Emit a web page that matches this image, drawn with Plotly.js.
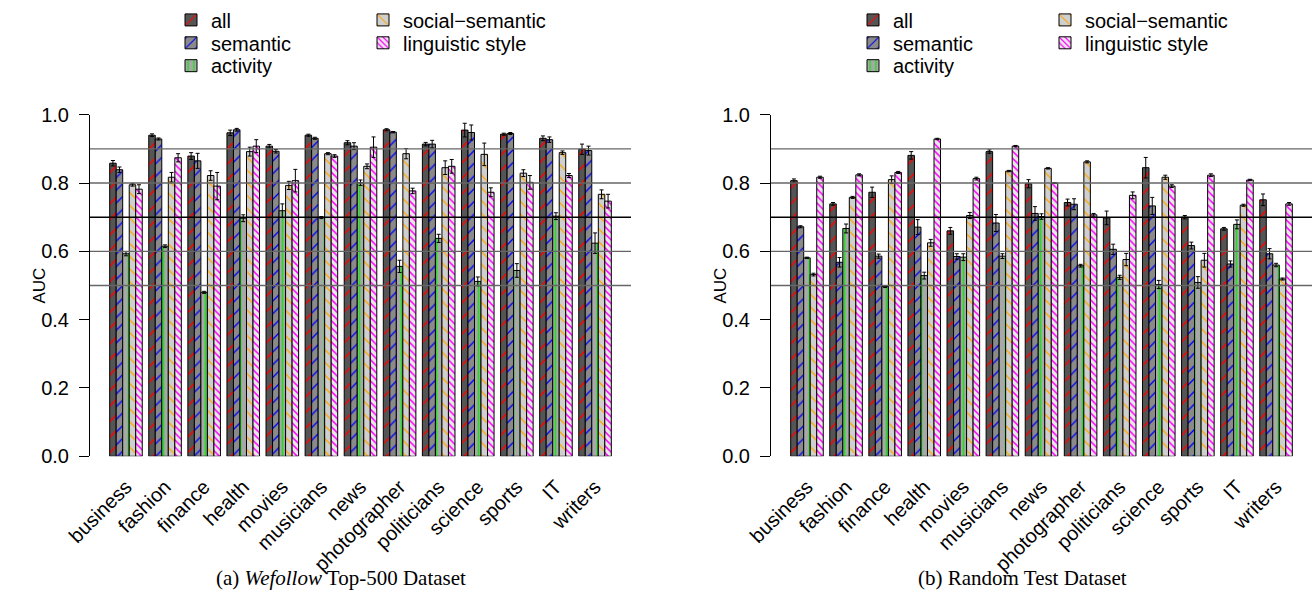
<!DOCTYPE html>
<html>
<head>
<meta charset="utf-8">
<script src="https://cdn.plot.ly/plotly-3.0.1.min.js"></script>
<style>
  html, body { margin: 0; padding: 0; background: #ffffff; }
  #chart { width: 1315px; height: 593px; }
</style>
</head>
<body>
<div id="chart"></div>
<script>
// ---------------- DATA ----------------
const categories = ['business','fashion','finance','health','movies','musicians','news','photographer','politicians','science','sports','IT','writers'];
const seriesNames = ['all','semantic','activity','social\u2212semantic','linguistic style'];

// (a) Wefollow Top-500 Dataset
const allA  = [0.858,0.940,0.879,0.947,0.908,0.940,0.918,0.956,0.914,0.955,0.943,0.931,0.899];
const semA  = [0.839,0.929,0.865,0.956,0.893,0.931,0.908,0.949,0.914,0.948,0.945,0.927,0.895];
const actA  = [0.593,0.615,0.480,0.697,0.719,0.699,0.801,0.556,0.638,0.512,0.544,0.703,0.624];
const socA  = [0.795,0.817,0.822,0.892,0.793,0.886,0.849,0.886,0.845,0.884,0.829,0.889,0.767];
const lingA = [0.782,0.874,0.791,0.908,0.807,0.879,0.905,0.777,0.849,0.773,0.802,0.822,0.747];
const allAerr  = [0.008,0.004,0.010,0.008,0.005,0.003,0.006,0.003,0.005,0.020,0.003,0.007,0.015];
const semAerr  = [0.008,0.003,0.022,0.004,0.005,0.003,0.010,0.002,0.011,0.022,0.003,0.008,0.013];
const actAerr  = [0.006,0.004,0.003,0.010,0.020,0.003,0.008,0.018,0.012,0.013,0.020,0.010,0.030];
const socAerr  = [0.004,0.014,0.014,0.013,0.012,0.003,0.007,0.015,0.020,0.033,0.010,0.005,0.013];
const lingAerr = [0.013,0.012,0.040,0.019,0.033,0.004,0.030,0.008,0.020,0.013,0.020,0.006,0.020];

// (b) Random Test Dataset
const allB  = [0.807,0.739,0.773,0.881,0.660,0.892,0.798,0.743,0.698,0.845,0.700,0.666,0.751];
const semB  = [0.672,0.568,0.586,0.671,0.585,0.683,0.711,0.738,0.606,0.733,0.617,0.563,0.593];
const actB  = [0.581,0.667,0.497,0.529,0.583,0.586,0.702,0.558,0.524,0.503,0.509,0.679,0.560];
const socB  = [0.532,0.758,0.810,0.625,0.705,0.835,0.843,0.862,0.576,0.817,0.574,0.735,0.519];
const lingB = [0.817,0.824,0.831,0.929,0.813,0.908,0.800,0.707,0.764,0.791,0.823,0.809,0.739];
const allBerr  = [0.005,0.004,0.015,0.011,0.010,0.005,0.012,0.010,0.020,0.030,0.005,0.004,0.017];
const semBerr  = [0.003,0.014,0.006,0.022,0.008,0.025,0.020,0.016,0.015,0.025,0.010,0.009,0.015];
const actBerr  = [0.002,0.013,0.003,0.010,0.010,0.007,0.008,0.004,0.006,0.012,0.017,0.013,0.005];
const socBerr  = [0.004,0.003,0.011,0.010,0.009,0.002,0.002,0.003,0.018,0.006,0.020,0.003,0.003];
const lingBerr = [0.003,0.003,0.003,0.002,0.004,0.002,0.001,0.004,0.010,0.004,0.004,0.002,0.004];

const yTicks = [0, 0.2, 0.4, 0.6, 0.8, 1.0];
const refLevels = [0.5, 0.6, 0.7, 0.8, 0.9];
const captionA = '(a) <i>Wefollow</i> Top-500 Dataset';
const captionB = '(b) Random Test Dataset';
const yTitle = 'AUC';

// ---------------- STYLE ----------------
const W = 1315, H = 593;
const patterns = [
  {shape:'/',  bgcolor:'#555555', fgcolor:'#ff0000', size:11, solidity:0.14},
  {shape:'/',  bgcolor:'#8a8a8a', fgcolor:'#0000ff', size:9,  solidity:0.15},
  {shape:'|',  bgcolor:'#a8a8a8', fgcolor:'#22dd22', size:7,  solidity:0.25},
  {shape:'\\', bgcolor:'#cfcfcf', fgcolor:'#ffa500', size:9,  solidity:0.14},
  {shape:'\\', bgcolor:'#e8e8e8', fgcolor:'#ff00ff', size:5,  solidity:0.3}
];
const refColors = ['#666666','#666666','#000000','#666666','#666666'];

const FONT = 'Liberation Sans, Arial, Helvetica, sans-serif';
const SERIF = 'Liberation Serif, Times New Roman, serif';

// legend cell positions (text start x, row center y) in pixels
const legendCellsA = [[213,17],[213,40],[213,63],[405,17],[405,40]];
const legendCellsB = [[895,17],[895,40],[895,63],[1087,17],[1087,40]];

const yDomain = [1 - 455.6/H, 1 - 112.3/H];
const xDomA = [90/W, 631/W];
const xDomB = [771/W, 1312/W];
const xRange = [-0.92, 12.92];

function makeTraces(vals, errs, xa, ya, legendOffset) {
  return vals.map((v, i) => ({
    type: 'bar',
    name: seriesNames[i],
    x: categories,
    y: v,
    xaxis: xa, yaxis: ya,
    legend: (legendOffset + i === 0) ? 'legend' : 'legend' + (legendOffset + i + 1),
    marker: {
      color: patterns[i].bgcolor,
      line: {color: '#000000', width: 1},
      pattern: Object.assign({fillmode: 'replace'}, patterns[i])
    },
    error_y: {type: 'data', array: errs[i], visible: true, color: '#000000', thickness: 1, width: 2},
    hoverinfo: 'x+y+name'
  }));
}

const traces = []
  .concat(makeTraces([allA, semA, actA, socA, lingA], [allAerr, semAerr, actAerr, socAerr, lingAerr], 'x', 'y', 0))
  .concat(makeTraces([allB, semB, actB, socB, lingB], [allBerr, semBerr, actBerr, socBerr, lingBerr], 'x2', 'y2', 5));

const xAxisBase = {type: 'category', range: xRange, showline: false, ticks: '',
  tickangle: -45, tickfont: {family: FONT, size: 20}, ticklabelstandoff: 14,
  showgrid: false, zeroline: false, fixedrange: true};
const yAxisBase = {domain: yDomain, range: [0, 1], tickvals: yTicks, tickformat: '.1f',
  showline: true, linecolor: '#000000', linewidth: 1, ticks: 'outside', ticklen: 10, tickwidth: 1,
  tickcolor: '#000000', ticklabelstandoff: 6, showgrid: false, zeroline: false,
  tickfont: {family: FONT, size: 20}, fixedrange: true};

const layout = {
  width: W, height: H,
  margin: {l: 0, r: 0, t: 0, b: 0},
  paper_bgcolor: '#ffffff', plot_bgcolor: 'rgba(0,0,0,0)',
  font: {family: FONT, size: 20, color: '#000000'},
  barmode: 'group', bargap: 1/6, bargroupgap: 0,
  showlegend: true,
  xaxis: Object.assign({}, xAxisBase, {domain: xDomA, anchor: 'y'}),
  yaxis: Object.assign({}, yAxisBase, {anchor: 'x'}),
  xaxis2: Object.assign({}, xAxisBase, {domain: xDomB, anchor: 'y2'}),
  yaxis2: Object.assign({}, yAxisBase, {anchor: 'x2'}),
  shapes: [],
  annotations: [
    {text: captionA, x: 341/W, y: 1 - 578/H, xref: 'paper', yref: 'paper', showarrow: false,
     xanchor: 'center', yanchor: 'middle', font: {family: SERIF, size: 21, color: '#000000'}},
    {text: captionB, x: 1022/W, y: 1 - 578/H, xref: 'paper', yref: 'paper', showarrow: false,
     xanchor: 'center', yanchor: 'middle', font: {family: SERIF, size: 21, color: '#000000'}},
    {text: yTitle, x: 40/W, y: 1 - 284/H, xref: 'paper', yref: 'paper', showarrow: false, textangle: -90,
     xanchor: 'center', yanchor: 'middle', font: {family: FONT, size: 17, color: '#000000'}},
    {text: yTitle, x: 721/W, y: 1 - 284/H, xref: 'paper', yref: 'paper', showarrow: false, textangle: -90,
     xanchor: 'center', yanchor: 'middle', font: {family: FONT, size: 17, color: '#000000'}}
  ]
};

refLevels.forEach((lv, i) => {
  ['x', 'x2'].forEach((xa, k) => {
    layout.shapes.push({type: 'line', xref: xa + ' domain', yref: k === 0 ? 'y' : 'y2',
      x0: 0, x1: 1, y0: lv, y1: lv, layer: 'above',
      line: {color: refColors[i], width: 1.4}});
  });
});

function legendCfg(cell) {
  return {x: (cell[0] - 42) / W, y: 1 - cell[1] / H, xanchor: 'left', yanchor: 'middle',
          orientation: 'v', bgcolor: 'rgba(0,0,0,0)', borderwidth: 0,
          font: {family: FONT, size: 20, color: '#000000'}, itemclick: false, itemdoubleclick: false};
}
legendCellsA.concat(legendCellsB).forEach((cell, i) => {
  layout[i === 0 ? 'legend' : 'legend' + (i + 1)] = legendCfg(cell);
});

Plotly.newPlot('chart', traces, layout, {displayModeBar: false, staticPlot: true});
</script>
</body>
</html>
